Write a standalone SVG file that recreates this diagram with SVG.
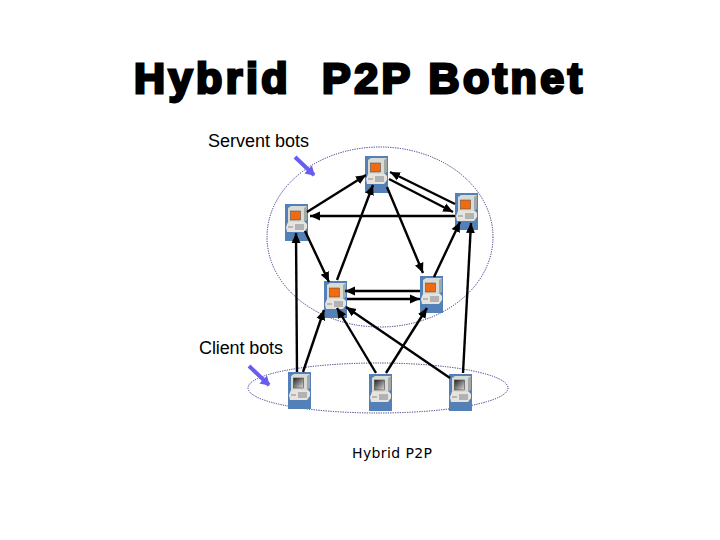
<svg xmlns="http://www.w3.org/2000/svg" width="720" height="540" viewBox="0 0 720 540">
<style>
text{fill:#000;font-family:"Liberation Sans",Arial,sans-serif}
.title{font-size:43px;font-weight:700;stroke:#000;stroke-width:2.8px;white-space:pre}
.lbl{font-size:18px}
.cap{font-size:14px;font-family:"DejaVu Sans",sans-serif}
.orbit{fill:none;stroke:#1a1a70;stroke-width:.9;stroke-dasharray:1.2 1.2}
.edge{fill:none;stroke:#000;stroke-width:2.4;marker-end:url(#ah)}
.pointer{fill:none;stroke:#6a5cf0;stroke-width:4;marker-end:url(#ph)}
</style>
<defs>
<marker id="ah" markerUnits="userSpaceOnUse" markerWidth="11" markerHeight="10" refX="10" refY="5" orient="auto"><path d="M0 .5L10 5L0 9.5z" fill="#000"/></marker>
<marker id="ph" markerUnits="userSpaceOnUse" markerWidth="10" markerHeight="11" refX="8" refY="5.5" orient="auto"><path d="M0 0L9 5.5L0 11z" fill="#6a5cf0"/></marker>
<linearGradient id="crt" x1="0" y1="0" x2="1" y2="1"><stop offset="0" stop-color="#222"/><stop offset="1" stop-color="#ddd"/></linearGradient>
<g id="pc">
<rect width="23" height="37" fill="#5480b8"/>
<path d="M3 4L6 2H22V15L19 18H3z" fill="#d8dad6"/>
<path d="M19 4L22 2V15L19 18z" fill="#a0a8a8"/>
<path d="M3 18H20L22 20V24L19 28H2L1 23z" fill="#e6e4dc"/>
<path d="M10 21H19M10 23H19M10 25H19" stroke="#667" stroke-width=".8"/>
<path d="M3 23H8" stroke="#889"/>
</g>
</defs>
<text class="title" x="134" y="93" textLength="448" lengthAdjust="spacing">Hybrid  P2P Botnet</text>
<text class="lbl" x="208" y="147" textLength="101">Servent bots</text>
<text class="lbl" x="199" y="354" textLength="84">Client bots</text>
<text class="cap" x="352" y="458" textLength="80">Hybrid P2P</text>
<ellipse class="orbit" cx="380" cy="237" rx="113" ry="90"/>
<ellipse class="orbit" cx="378" cy="388" rx="130" ry="25"/>
<g id="s1"><use href="#pc" x="365" y="156"/><rect x="370.5" y="163" width="10" height="9" fill="#f06a10" stroke="#444" stroke-width=".5"/></g>
<g id="s2"><use href="#pc" x="455" y="193"/><rect x="460.5" y="200" width="10" height="9" fill="#f06a10" stroke="#444" stroke-width=".5"/></g>
<g id="s3"><use href="#pc" x="285" y="204"/><rect x="290.5" y="211" width="10" height="9" fill="#f06a10" stroke="#444" stroke-width=".5"/></g>
<g id="s4"><use href="#pc" x="324" y="281"/><rect x="329.5" y="288" width="10" height="9" fill="#f06a10" stroke="#444" stroke-width=".5"/></g>
<g id="s5"><use href="#pc" x="420" y="276"/><rect x="425.5" y="283" width="10" height="9" fill="#f06a10" stroke="#444" stroke-width=".5"/></g>
<g id="c1"><use href="#pc" x="288" y="372"/><rect x="293.5" y="378" width="10" height="10" fill="url(#crt)" stroke="#333" stroke-width=".5"/></g>
<g id="c2"><use href="#pc" x="369" y="374"/><rect x="374.5" y="380" width="10" height="10" fill="url(#crt)" stroke="#333" stroke-width=".5"/></g>
<g id="c3"><use href="#pc" x="449" y="374"/><rect x="454.5" y="380" width="10" height="10" fill="url(#crt)" stroke="#333" stroke-width=".5"/></g>
<g id="connectors">
<path class="edge" d="M307 212L366 175"/>
<path class="edge" d="M389 179L453 212"/>
<path class="edge" d="M455 204L390 172"/>
<path class="edge" d="M455 216H310"/>
<path class="edge" d="M305 231L329 282"/>
<path class="edge" d="M337 280L373 185"/>
<path class="edge" d="M387 187L423 273"/>
<path class="edge" d="M434 277L460 222"/>
<path class="edge" d="M420 291H345"/>
<path class="edge" d="M347 299H420"/>
<path class="edge" d="M297 372L296 233"/>
<path class="edge" d="M303 372L324 310"/>
<path class="edge" d="M376 373L337 308"/>
<path class="edge" d="M386 373L427 308"/>
<path class="edge" d="M450 378L346 307"/>
<path class="edge" d="M463 373L471 223"/>
<path class="pointer" d="M295 157L314 175"/>
<path class="pointer" d="M249 366L269 385"/>
</g>
</svg>
